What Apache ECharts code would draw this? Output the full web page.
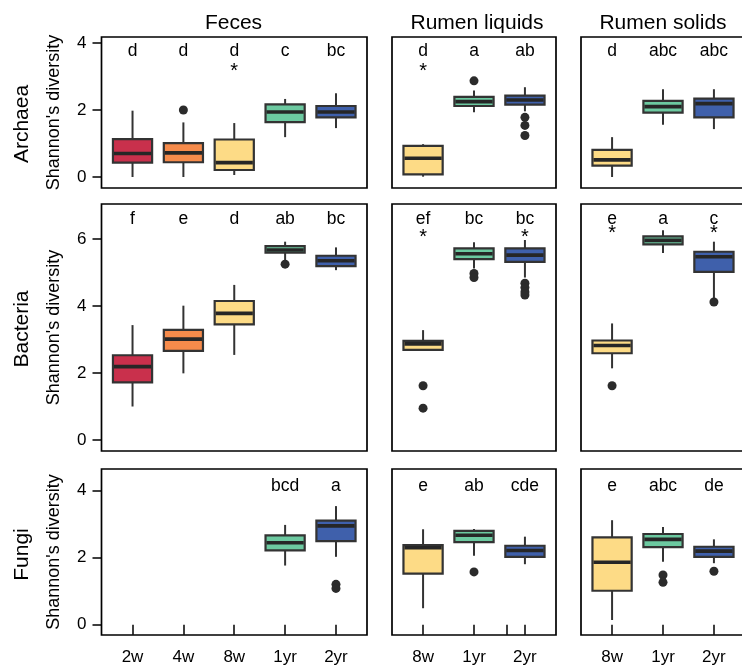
<!DOCTYPE html>
<html>
<head>
<meta charset="utf-8">
<script src="https://cdn.jsdelivr.net/npm/echarts@6/dist/echarts.min.js"></script>
<style>
html,body{margin:0;padding:0;background:#fff;}
#chart{width:742px;height:666px;}
</style>
</head>
<body>
<div id="chart"></div>
<script>
// ---------- categories / labels ----------
const fecesLabels = ['2w', '4w', '8w', '1yr', '2yr'];
const rumenLabels = ['8w', '1yr', '2yr'];
const columnTitles = ['Feces', 'Rumen liquids', 'Rumen solids'];
const rowTitles = ['Archaea', 'Bacteria', 'Fungi'];
const yTicks = [[0, 2, 4], [0, 2, 4, 6], [0, 2, 4]];

// ---------- box stats: [min, Q1, median, Q3, max] ----------
const archaeaFeces = [[0.00, 0.43, 0.70, 1.13, 1.98], [0.00, 0.44, 0.72, 1.01, 1.63], [0.06, 0.21, 0.43, 1.12, 1.61], [1.19, 1.64, 1.94, 2.17, 2.33], [1.46, 1.78, 1.94, 2.12, 2.50]];
const archaeaLiquids = [[0.01, 0.08, 0.56, 0.93, 0.98], [1.93, 2.12, 2.25, 2.39, 2.58], [1.96, 2.16, 2.30, 2.43, 2.68]];
const archaeaSolids = [[0.00, 0.34, 0.51, 0.81, 1.19], [1.56, 1.92, 2.10, 2.27, 2.62], [1.43, 1.78, 2.19, 2.34, 2.62]];
const bacteriaFeces = [[1.00, 1.72, 2.19, 2.53, 3.43], [1.99, 2.66, 3.01, 3.29, 4.01], [2.54, 3.45, 3.78, 4.15, 4.63], [5.32, 5.59, 5.67, 5.79, 5.92], [5.07, 5.19, 5.35, 5.50, 5.75]];
const bacteriaLiquids = [[2.69, 2.69, 2.87, 2.96, 3.28], [5.12, 5.40, 5.56, 5.72, 5.90], [4.85, 5.32, 5.52, 5.72, 5.97]];
const bacteriaSolids = [[2.14, 2.59, 2.82, 2.97, 3.48], [5.58, 5.84, 5.96, 6.08, 6.26], [4.15, 5.02, 5.47, 5.62, 5.92]];
const fungiFeces = [null, null, null, [1.76, 2.21, 2.44, 2.66, 2.97], [2.02, 2.49, 2.94, 3.10, 3.53]];
const fungiLiquids = [[0.49, 1.52, 2.29, 2.37, 2.84], [2.05, 2.46, 2.66, 2.79, 2.85], [1.80, 2.02, 2.21, 2.35, 2.62]];
const fungiSolids = [[0.14, 1.01, 1.86, 2.60, 3.11], [1.87, 2.31, 2.54, 2.70, 2.91], [1.83, 2.02, 2.19, 2.32, 2.54]];

// ---------- outliers ----------
const archaeaFecesOut = [[], [2.00], [], [], []];
const archaeaLiquidsOut = [[], [2.87], [1.78, 1.54, 1.24]];
const archaeaSolidsOut = [[], [], []];
const bacteriaFecesOut = [[], [], [], [5.25], []];
const bacteriaLiquidsOut = [[1.62, 0.95], [4.97, 4.85], [4.68, 4.55, 4.42, 4.33]];
const bacteriaSolidsOut = [[1.62], [], [4.12]];
const fungiFecesOut = [[], [], [], [], [1.20, 1.08]];
const fungiLiquidsOut = [[], [1.57], []];
const fungiSolidsOut = [[], [1.48, 1.26], [1.59]];

// ---------- significance letters & asterisks ----------
const archaeaFecesLetters = ['d', 'd', 'd', 'c', 'bc'];
const archaeaLiquidsLetters = ['d', 'a', 'ab'];
const archaeaSolidsLetters = ['d', 'abc', 'abc'];
const bacteriaFecesLetters = ['f', 'e', 'd', 'ab', 'bc'];
const bacteriaLiquidsLetters = ['ef', 'bc', 'bc'];
const bacteriaSolidsLetters = ['e', 'a', 'c'];
const fungiFecesLetters = ['', '', '', 'bcd', 'a'];
const fungiLiquidsLetters = ['e', 'ab', 'cde'];
const fungiSolidsLetters = ['e', 'abc', 'de'];

const archaeaFecesStar = [0, 0, 1, 0, 0];
const archaeaLiquidsStar = [1, 0, 0];
const archaeaSolidsStar = [0, 0, 0];
const bacteriaFecesStar = [0, 0, 0, 0, 0];
const bacteriaLiquidsStar = [1, 0, 1];
const bacteriaSolidsStar = [1, 0, 1];
const fungiFecesStar = [0, 0, 0, 0, 0];
const fungiLiquidsStar = [0, 0, 0];
const fungiSolidsStar = [0, 0, 0];

const letterY = [3.75, 6.60, 4.11];
const starY = [[3.15, 3.15, 3.15], [6.04, 6.04, 6.16], [0, 0, 0]];

// ---------- styling ----------
const palette = { '2w': '#C9304C', '4w': '#F68B4B', '8w': '#FDDB86', '1yr': '#6CC9A0', '2yr': '#3F60AB' };
const FONT = "'Liberation Sans', Arial, Helvetica, sans-serif";

const panels = [
  [archaeaFeces, archaeaLiquids, archaeaSolids],
  [bacteriaFeces, bacteriaLiquids, bacteriaSolids],
  [fungiFeces, fungiLiquids, fungiSolids]
];
const panelOut = [
  [archaeaFecesOut, archaeaLiquidsOut, archaeaSolidsOut],
  [bacteriaFecesOut, bacteriaLiquidsOut, bacteriaSolidsOut],
  [fungiFecesOut, fungiLiquidsOut, fungiSolidsOut]
];
const panelLetters = [
  [archaeaFecesLetters, archaeaLiquidsLetters, archaeaSolidsLetters],
  [bacteriaFecesLetters, bacteriaLiquidsLetters, bacteriaSolidsLetters],
  [fungiFecesLetters, fungiLiquidsLetters, fungiSolidsLetters]
];
const panelStars = [
  [archaeaFecesStar, archaeaLiquidsStar, archaeaSolidsStar],
  [bacteriaFecesStar, bacteriaLiquidsStar, bacteriaSolidsStar],
  [fungiFecesStar, fungiLiquidsStar, fungiSolidsStar]
];
const colLabels = [fecesLabels, rumenLabels, rumenLabels];

// layout
const colGeom = [{ left: 101.5, width: 265.5 }, { left: 392, width: 164 }, { left: 581, width: 164 }];
const rowGeom = [{ top: 37, height: 151 }, { top: 204, height: 247 }, { top: 469, height: 166 }];
const yRange = [[-0.328, 4.179], [-0.328, 7.045], [-0.307, 4.634]];
const XPAD = 0.61;
const BOXW = 0.77;

const grids = [], xAxes = [], yAxes = [], series = [];

function renderBox(params, api) {
  const x = api.value(0);
  const pMin = api.coord([x, api.value(1)]);
  const pQ1 = api.coord([x, api.value(2)]);
  const pMed = api.coord([x, api.value(3)]);
  const pQ3 = api.coord([x, api.value(4)]);
  const pMax = api.coord([x, api.value(5)]);
  const w = api.size([BOXW, 0])[0];
  const color = api.visual('color');
  const stroke = '#333333';
  return {
    type: 'group',
    children: [
      { type: 'line', shape: { x1: pMax[0], y1: pMax[1], x2: pQ3[0], y2: pQ3[1] }, style: { stroke: stroke, lineWidth: 2 } },
      { type: 'line', shape: { x1: pMin[0], y1: pMin[1], x2: pQ1[0], y2: pQ1[1] }, style: { stroke: stroke, lineWidth: 2 } },
      { type: 'rect', shape: { x: pQ3[0] - w / 2, y: pQ3[1], width: w, height: pQ1[1] - pQ3[1] }, style: { fill: color, stroke: stroke, lineWidth: 2.2 } },
      { type: 'line', shape: { x1: pMed[0] - w / 2 + 1, y1: pMed[1], x2: pMed[0] + w / 2 - 1, y2: pMed[1] }, style: { stroke: '#262626', lineWidth: 3.6 } }
    ]
  };
}

function makeTextRenderer(texts, fontSize) {
  return function (params, api) {
    const p = api.coord([api.value(0), api.value(1)]);
    return {
      type: 'text', x: p[0], y: p[1],
      style: {
        text: texts[params.dataIndex], fill: '#000', font: fontSize + 'px ' + FONT,
        align: 'center', verticalAlign: 'middle', textAlign: 'center', textVerticalAlign: 'middle'
      }
    };
  };
}

for (let r = 0; r < 3; r++) {
  for (let c = 0; c < 3; c++) {
    const gi = r * 3 + c;
    const labels = colLabels[c];
    const n = labels.length;
    const isBottom = r === 2;
    const isLeft = c === 0;
    grids.push({
      left: colGeom[c].left, width: colGeom[c].width,
      top: rowGeom[r].top, height: rowGeom[r].height,
      show: true, borderColor: '#000', borderWidth: 1.7,
      backgroundColor: 'transparent', containLabel: false, outerBoundsMode: 'none'
    });
    const tickVals = labels.map((_, i) => i + 1);
    const extraTicks = (isBottom && c === 1) ? [1, 2, 2.65, 3] : tickVals;
    xAxes.push({
      gridIndex: gi, type: 'value', min: 1 - XPAD, max: n + XPAD,
      axisLine: { show: false }, splitLine: { show: false },
      axisTick: { show: isBottom, length: 10, lineStyle: { color: '#000', width: 1.5 }, customValues: extraTicks },
      axisLabel: {
        show: isBottom, customValues: tickVals, margin: 14,
        formatter: (v) => labels[Math.round(v) - 1] || '',
        fontSize: 17, color: '#000', fontFamily: FONT
      }
    });
    yAxes.push({
      gridIndex: gi, type: 'value', min: yRange[r][0], max: yRange[r][1],
      axisLine: { show: false }, splitLine: { show: false },
      axisTick: { show: isLeft, length: 9, lineStyle: { color: '#000', width: 1.5 }, customValues: yTicks[r] },
      axisLabel: { show: isLeft, customValues: yTicks[r], margin: 15, fontSize: 17, color: '#000', fontFamily: FONT },
      name: isLeft ? "Shannon's diversity" : '', nameLocation: 'middle', nameGap: 38,
      nameTextStyle: { fontSize: 18, color: '#000', fontFamily: FONT }
    });

    // boxes
    const stats = panels[r][c];
    const boxData = [];
    stats.forEach((s, i) => {
      if (!s) return;
      boxData.push({ value: [i + 1, s[0], s[1], s[2], s[3], s[4]], itemStyle: { color: palette[labels[i]] } });
    });
    series.push({
      type: 'custom', xAxisIndex: gi, yAxisIndex: gi, renderItem: renderBox,
      encode: { x: 0, y: [1, 2, 3, 4, 5] }, data: boxData, silent: true, z: 3
    });

    // outliers
    const outData = [];
    panelOut[r][c].forEach((arr, i) => arr.forEach(v => outData.push([i + 1, v])));
    series.push({
      type: 'scatter', xAxisIndex: gi, yAxisIndex: gi, data: outData,
      symbol: 'circle', symbolSize: 9, itemStyle: { color: '#2b2b2b', opacity: 1 }, silent: true, z: 4
    });

    // letters
    const letters = panelLetters[r][c];
    const letterData = letters.map((t, i) => [i + 1, letterY[r]]);
    series.push({
      type: 'custom', xAxisIndex: gi, yAxisIndex: gi, data: letterData,
      renderItem: makeTextRenderer(letters, 17.5), silent: true, z: 5
    });

    // asterisks
    const starData = [], starTexts = [];
    panelStars[r][c].forEach((s, i) => { if (s) { starData.push([i + 1, starY[r][c]]); starTexts.push('*'); } });
    series.push({
      type: 'custom', xAxisIndex: gi, yAxisIndex: gi, data: starData,
      renderItem: makeTextRenderer(starTexts, 20), silent: true, z: 5
    });
  }
}

// column and row titles
const graphics = [];
const titleX = [233.5, 477, 663];
columnTitles.forEach((t, i) => graphics.push({
  type: 'text', x: titleX[i], y: 23, silent: true,
  style: { text: t, font: '21px ' + FONT, fill: '#000', align: 'center', verticalAlign: 'middle', textAlign: 'center', textVerticalAlign: 'middle' }
}));
const rowCenterY = [124, 329, 554.5];
rowTitles.forEach((t, i) => graphics.push({
  type: 'text', x: 22, y: rowCenterY[i], rotation: Math.PI / 2, silent: true,
  style: { text: t, font: '21px ' + FONT, fill: '#000', align: 'center', verticalAlign: 'middle', textAlign: 'center', textVerticalAlign: 'middle' }
}));

const chart = echarts.init(document.getElementById('chart'), null, { renderer: 'canvas' });
chart.setOption({
  animation: false,
  backgroundColor: '#fff',
  grid: grids,
  xAxis: xAxes,
  yAxis: yAxes,
  series: series,
  graphic: graphics
});
</script>
</body>
</html>
